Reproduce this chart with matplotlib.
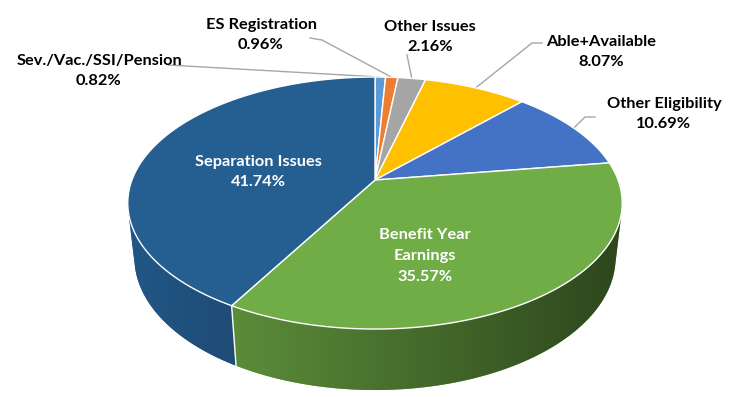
import numpy as np
import matplotlib
matplotlib.use('Agg')
import matplotlib.pyplot as plt
from matplotlib.colors import to_rgb

# slice data, clockwise from 12 o'clock
categories = ['Sev./Vac./SSI/Pension', 'ES Registration', 'Other Issues', 'Able+Available',
              'Other Eligibility', 'Benefit Year\nEarnings', 'Separation Issues']
shares = [0.82, 0.96, 2.16, 8.07, 10.69, 35.57, 41.74]
colors = ['#5B9BD5', '#ED7D31', '#A5A5A5', '#FFC000', '#4472C4', '#70AD47', '#255E91']

plt.rcParams['font.family'] = ['Lato', 'DejaVu Sans']

###################
# PERSPECTIVE SETUP
###################
elev = np.arcsin(0.493)
ce, se = np.cos(elev), np.sin(elev)
D = 4.76          # camera distance (pie radius = 1)
h = 0.258         # pie thickness
SX, SY = 1157, 1176
X0, Y0 = 375, 180


def project(t_deg, z=0.0, r=1.0):
    t = np.radians(t_deg)
    x, y = r * np.cos(t), r * np.sin(t)
    vy = y + D * ce
    vz = z - D * se
    depth = vy * ce - vz * se
    up = vy * se + vz * ce
    return X0 + SX * x / depth, Y0 - SY * up / depth


def shade_factor(px):
    return np.clip(0.92 - (px - 130) * 0.00105, 0.3, 1.0)


fig = plt.figure(figsize=(7.5, 3.97), dpi=100)
ax = fig.add_axes([0, 0, 1, 1])
ax.axis('off')

frac = np.array(shares) / np.sum(shares)
bounds = 90 - 360 * np.concatenate([[0], np.cumsum(frac)])

# front-facing part of the cylinder wall
k = np.degrees(np.arcsin(1 / (D * ce)))
vis_lo, vis_hi = -(180 - k), -k

# side walls: gradient image clipped to each slice's wall
for i, col in enumerate(colors):
    a0, a1 = bounds[i], bounds[i + 1]
    lo, hi = max(a1, vis_lo), min(a0, vis_hi)
    if lo >= hi:
        continue
    ts = np.linspace(hi, lo, 200)
    xt, yt = project(ts)
    xb, yb = project(ts[::-1], -h)
    pts = np.column_stack([np.r_[xt, xb], np.r_[yt, yb]])
    wall = plt.Polygon(pts, closed=True, fc=to_rgb(col), ec='none', zorder=1.4)
    ax.add_patch(wall)
    x_min, x_max = pts[:, 0].min() - 2, pts[:, 0].max() + 2
    y_min, y_max = pts[:, 1].min() - 2, pts[:, 1].max() + 2
    xs = np.linspace(x_min, x_max, 400)
    grad = np.array(to_rgb(col))[None, None, :] * shade_factor(xs)[None, :, None]
    grad = np.repeat(grad, 2, axis=0)
    im = ax.imshow(grad, extent=(x_min, x_max, y_max, y_min), aspect='auto',
                   interpolation='bilinear', zorder=1.5)
    im.set_clip_path(wall)

for b in bounds[1:-1]:
    if vis_lo < b < vis_hi:
        x1, y1 = project(b)
        x2, y2 = project(b, -h)
        ax.plot([x1, x2], [y1, y2], color='white', lw=1.0, zorder=1.6)

ax.set_xlim(0, 750)
ax.set_ylim(397, 0)

# top faces
cx, cy = project(0, r=0)
for i, col in enumerate(colors):
    ts = np.linspace(bounds[i], bounds[i + 1], 200)
    xs, ys = project(ts)
    pts = np.column_stack([np.r_[cx, xs], np.r_[cy, ys]])
    ax.add_patch(plt.Polygon(pts, closed=True, fc=col, ec='white', lw=1.0,
                             joinstyle='round', zorder=2))

##########
# LABELS
##########
fs = 11.8
ls = 1.6
mids = (bounds[:-1] + bounds[1:]) / 2

# outside labels: text centre and leader path (text end first)
out_pos = {0: (99, 71), 1: (261, 35), 2: (430, 37), 3: (601, 52), 4: (664, 114)}
leader = {0: [(168, 65)], 1: [(310, 38), (322, 40)], 2: [(407, 55)],
          3: [(542, 43), (532, 43)], 4: [(595, 117), (585, 117)]}
for i in out_pos:
    x, y = out_pos[i]
    ax.text(x, y, '%s\n%.2f%%' % (categories[i], shares[i]), ha='center', va='center',
            fontsize=fs, fontweight='bold', color='black', linespacing=ls, zorder=3)
    ex, ey = project(mids[i])
    path = leader[i] + [(ex, ey)]
    ax.plot([p[0] for p in path], [p[1] for p in path], color='#A6A6A6', lw=1.0, zorder=1)

ax.text(258, 172, '%s\n%.2f%%' % (categories[6], shares[6]), ha='center', va='center',
        fontsize=fs, fontweight='bold', color='white', linespacing=ls, zorder=3)
ax.text(425, 256, '%s\n%.2f%%' % (categories[5], shares[5]), ha='center', va='center',
        fontsize=fs, fontweight='bold', color='white', linespacing=ls, zorder=3)

fig.savefig('out.png', dpi=100)
